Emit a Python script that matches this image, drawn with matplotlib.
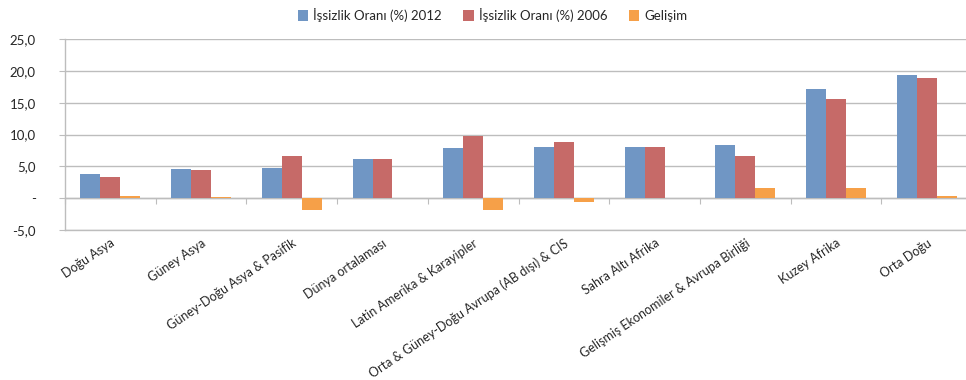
import numpy as np
import matplotlib.pyplot as plt
from matplotlib.patches import Patch

plt.rcParams['font.family'] = ['Lato', 'DejaVu Sans']

regions = ['Doğu Asya', 'Güney Asya', 'Güney-Doğu Asya & Pasifik', 'Dünya ortalaması',
           'Latin Amerika & Karayipler', 'Orta & Güney-Doğu Avrupa (AB dışı) & CIS',
           'Sahra Altı Afrika', 'Gelişmiş Ekonomiler & Avrupa Birliği', 'Kuzey Afrika', 'Orta Doğu']
rate_2012 = [3.8, 4.6, 4.8, 6.2, 7.9, 8.0, 8.0, 8.3, 17.2, 19.3]
rate_2006 = [3.3, 4.4, 6.6, 6.1, 9.7, 8.8, 8.0, 6.7, 15.6, 18.9]
change = [0.4, 0.2, -1.8, 0.1, -1.8, -0.6, 0.0, 1.6, 1.6, 0.4]

series_names = ['İşsizlik Oranı (%) 2012', 'İşsizlik Oranı (%) 2006', 'Gelişim']
colors = ['#7096C4', '#C66A68', '#F6A048']
y_ticks = [-5, 0, 5, 10, 15, 20, 25]

fig = plt.figure(figsize=(9.66, 3.8), dpi=100)
ax = fig.add_axes([0.0673, 0.3947, 0.939, 0.5027])

x = np.arange(len(regions))
w = 0.22
for i, vals in enumerate([rate_2012, rate_2006, change]):
    ax.bar(x + (i - 1) * w, vals, w, color=colors[i], linewidth=0, zorder=3)

ax.set_xlim(-0.5, len(regions) - 0.5)
ax.set_ylim(-5, 25)
ax.set_yticks(y_ticks)
ax.set_yticklabels(['-' if t == 0 else f'{t:.1f}'.replace('.', ',') for t in y_ticks])
ax.yaxis.grid(True, color='#BDBDBD', linewidth=1.0, zorder=0)
ax.tick_params(axis='y', length=4, color='#BDBDBD', pad=17, labelsize=9.5,
               labelcolor='#262626')

ax.set_xticks(x)
ax.set_xticklabels(regions, rotation=34, ha='right', rotation_mode='anchor',
                   fontsize=9, color='#262626')
ax.tick_params(axis='x', length=0, pad=5)

for side in ['top', 'right']:
    ax.spines[side].set_visible(False)
for side in ['left', 'bottom']:
    ax.spines[side].set_color('#BDBDBD')
    ax.spines[side].set_linewidth(1.0)

# category axis crossing at zero, with tick marks between groups
zero_axis = ax.secondary_xaxis(5 / 30)
zero_axis.set_xticks(np.arange(len(regions) + 1) - 0.5)
zero_axis.set_xticklabels([])
zero_axis.tick_params(length=4, color='#BDBDBD', direction='out')
zero_axis.spines['bottom'].set_color('#BDBDBD')
zero_axis.spines['bottom'].set_linewidth(1.0)

handles = [Patch(facecolor=c, edgecolor='none') for c in colors]
fig.legend(handles, series_names, loc='upper center', bbox_to_anchor=(0.51, 1.01),
           ncol=3, frameon=False, fontsize=9.5, handlelength=0.8, handleheight=0.8,
           handletextpad=0.4, columnspacing=1.6, labelcolor='#262626')

fig.savefig('out.png', dpi=100)
